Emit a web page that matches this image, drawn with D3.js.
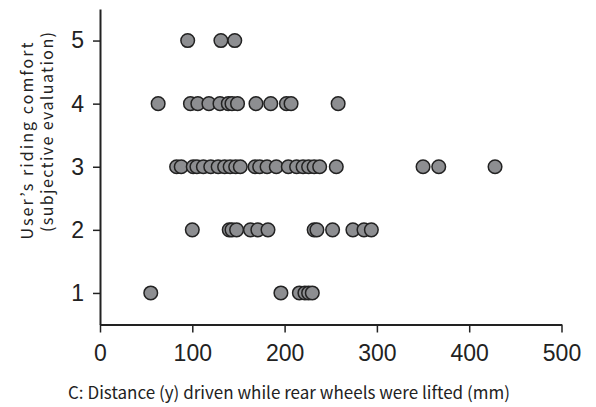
<!DOCTYPE html>
<html>
<head>
<meta charset="utf-8">
<script src="https://cdn.jsdelivr.net/npm/d3@7"></script>
<style>
  html, body { margin: 0; padding: 0; background: #fff; }
  svg { display: block; }
  .tick text { font-family: "Liberation Sans Narrow", "Liberation Sans", Arial, sans-serif; fill: #222; }
  .title { font-family: "Noto Sans CJK JP", "DejaVu Sans", sans-serif; fill: #222; }
</style>
</head>
<body>
<svg id="chart" width="596" height="407"></svg>
<script>
// Comfort scores (y) and lifted-driving distances in mm (x), one list per score
const comfortLevels = [1, 2, 3, 4, 5];
const distancesAt1 = [55, 196, 216, 222, 226, 230];
const distancesAt2 = [100, 140, 143, 148, 163, 171, 182, 232, 235, 252, 274, 286, 294];
const distancesAt3 = [83, 88, 101, 105, 112, 120, 128, 135, 141, 147, 152, 168, 173, 181, 191,
                      204, 213, 220, 226, 232, 238, 256, 350, 367, 428];
const distancesAt4 = [63, 98, 106, 118, 130, 139, 143, 149, 169, 185, 202, 207, 258];
const distancesAt5 = [95, 131, 146];
const xTicks = [0, 100, 200, 300, 400, 500];
const yTicks = [1, 2, 3, 4, 5];

const xTitle = "C: Distance (y) driven while rear wheels were lifted (mm)";
const yTitleLines = ["User\u2019s riding comfort", "(subjective evaluation)"];

const groups = [distancesAt1, distancesAt2, distancesAt3, distancesAt4, distancesAt5];
const points = [];
groups.forEach((arr, i) => arr.forEach(d => points.push({ x: d, y: comfortLevels[i] })));

const svg = d3.select("#chart");

const x = d3.scaleLinear().domain([0, 500]).range([100, 561.5]);
const y = d3.scaleLinear().domain([0.5, 5.5]).range([324.5, 9]);

// x axis
const gx = svg.append("g")
  .attr("transform", `translate(0,${y(0.5)})`)
  .call(d3.axisBottom(x).tickValues(xTicks).tickFormat(d3.format("d"))
    .tickSize(8).tickPadding(12).tickSizeOuter(0));
gx.select(".domain").attr("stroke", "#222").attr("stroke-width", 2);
gx.selectAll(".tick line").attr("stroke", "#222").attr("stroke-width", 1.5);
gx.selectAll(".tick text").attr("font-size", 23);

// y axis
const gy = svg.append("g")
  .attr("transform", `translate(${x(0)},0)`)
  .call(d3.axisLeft(y).tickValues(yTicks).tickFormat(d3.format("d"))
    .tickSize(7).tickPadding(9).tickSizeOuter(0));
gy.select(".domain").attr("stroke", "#222").attr("stroke-width", 2);
gy.selectAll(".tick line").attr("stroke", "#222").attr("stroke-width", 1.5);
gy.selectAll(".tick text").attr("font-size", 23);

// points
svg.append("g").selectAll("circle")
  .data(points)
  .join("circle")
  .attr("cx", d => x(d.x))
  .attr("cy", d => y(d.y))
  .attr("r", 6.8)
  .attr("fill", "#8d8e91")
  .attr("stroke", "#222")
  .attr("stroke-width", 1.5);

// axis titles
svg.append("text")
  .attr("class", "title")
  .attr("x", 289)
  .attr("y", 399)
  .attr("text-anchor", "middle")
  .attr("font-size", 17)
  .attr("textLength", 442)
  .attr("lengthAdjust", "spacing")
  .text(xTitle);

const yTitleCenters = [141, 132];
const yTitleLengths = [197, 200];
svg.append("g")
  .selectAll("text")
  .data(yTitleLines)
  .join("text")
  .attr("class", "title")
  .attr("transform", (d, i) => `translate(${33 + i * 20},${yTitleCenters[i]}) rotate(-90)`)
  .attr("text-anchor", "middle")
  .attr("font-size", 16)
  .attr("textLength", (d, i) => yTitleLengths[i])
  .attr("lengthAdjust", "spacing")
  .text(d => d);
</script>
</body>
</html>
